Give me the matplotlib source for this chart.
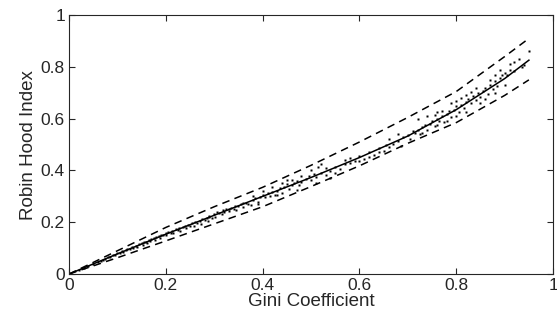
import matplotlib
matplotlib.use("Agg")
import matplotlib.pyplot as plt

plt.rcParams["font.family"] = ["Liberation Sans", "DejaVu Sans"]

# fitted curve and bounds
GRID = [0, 0.1, 0.2, 0.3, 0.4, 0.5, 0.6, 0.7, 0.8, 0.9, 0.95]
FIT = [0, 0.078, 0.154, 0.227, 0.300, 0.373, 0.450, 0.533, 0.635, 0.755, 0.826]
UPPER = [0, 0.090, 0.180, 0.260, 0.335, 0.420, 0.510, 0.605, 0.705, 0.840, 0.910]
LOWER = [0, 0.063, 0.128, 0.194, 0.260, 0.338, 0.418, 0.505, 0.585, 0.690, 0.750]

PTS = [
    (0.02, 0.016), (0.03, 0.024), (0.04, 0.031), (0.05, 0.040), (0.06, 0.047),
    (0.065, 0.052), (0.07, 0.056), (0.075, 0.058), (0.08, 0.064), (0.085, 0.066),
    (0.09, 0.072), (0.095, 0.074), (0.10, 0.080), (0.105, 0.082), (0.11, 0.088),
    (0.112, 0.085), (0.118, 0.092), (0.12, 0.096), (0.125, 0.097), (0.13, 0.103),
    (0.133, 0.100), (0.138, 0.108), (0.14, 0.106), (0.145, 0.115), (0.15, 0.118),
    (0.152, 0.112), (0.155, 0.122), (0.158, 0.124), (0.16, 0.119), (0.165, 0.130),
    (0.168, 0.126), (0.17, 0.134), (0.175, 0.138), (0.178, 0.132), (0.18, 0.142),
    (0.185, 0.146), (0.188, 0.140), (0.19, 0.150), (0.195, 0.149), (0.2, 0.158),
    (0.2, 0.152), (0.205, 0.162), (0.21, 0.160), (0.212, 0.168), (0.215, 0.158),
    (0.22, 0.172), (0.225, 0.170), (0.228, 0.178), (0.23, 0.166), (0.235, 0.180),
    (0.24, 0.185), (0.242, 0.176), (0.245, 0.190), (0.25, 0.186), (0.255, 0.196),
    (0.258, 0.184), (0.26, 0.200), (0.265, 0.196), (0.27, 0.206), (0.272, 0.194),
    (0.275, 0.212), (0.28, 0.210), (0.285, 0.218), (0.288, 0.206), (0.29, 0.222),
    (0.295, 0.216), (0.30, 0.232), (0.302, 0.222), (0.305, 0.238), (0.31, 0.236),
    (0.315, 0.230), (0.318, 0.246), (0.32, 0.240), (0.325, 0.250), (0.33, 0.244),
    (0.335, 0.256), (0.34, 0.250), (0.342, 0.262), (0.345, 0.246), (0.35, 0.262),
    (0.355, 0.270), (0.36, 0.258), (0.365, 0.276), (0.37, 0.272), (0.375, 0.266),
    (0.38, 0.284), (0.385, 0.292), (0.39, 0.280), (0.395, 0.296),
    (0.40, 0.304), (0.405, 0.296), (0.41, 0.312), (0.415, 0.300), (0.42, 0.318),
    (0.425, 0.306), (0.43, 0.322), (0.435, 0.332), (0.44, 0.314), (0.445, 0.338),
    (0.45, 0.346), (0.455, 0.330), (0.46, 0.342), (0.465, 0.352), (0.47, 0.360),
    (0.475, 0.342), (0.48, 0.356), (0.49, 0.366), (0.495, 0.380), (0.50, 0.362),
    (0.505, 0.386), (0.51, 0.374), (0.52, 0.392), (0.53, 0.384), (0.54, 0.398),
    (0.55, 0.412), (0.56, 0.404), (0.57, 0.424), (0.58, 0.428), (0.59, 0.438),
    (0.60, 0.456), (0.61, 0.444), (0.62, 0.470), (0.63, 0.458), (0.64, 0.486),
    (0.65, 0.476), (0.655, 0.500), (0.66, 0.490), (0.67, 0.504), (0.68, 0.514),
    (0.685, 0.494), (0.69, 0.530), (0.70, 0.536), (0.705, 0.522), (0.71, 0.552),
    (0.715, 0.544), (0.72, 0.558), (0.725, 0.540), (0.73, 0.566), (0.735, 0.576),
    (0.74, 0.556), (0.745, 0.580), (0.75, 0.590), (0.755, 0.572), (0.76, 0.600),
    (0.765, 0.592), (0.77, 0.610), (0.775, 0.586), (0.78, 0.618), (0.785, 0.628),
    (0.79, 0.608), (0.795, 0.634), (0.80, 0.648), (0.805, 0.624), (0.81, 0.654),
    (0.815, 0.640), (0.82, 0.664), (0.825, 0.676), (0.83, 0.660), (0.835, 0.686),
    (0.84, 0.674), (0.845, 0.698), (0.85, 0.684), (0.855, 0.708), (0.86, 0.718),
    (0.865, 0.694), (0.87, 0.730), (0.875, 0.716), (0.88, 0.744), (0.885, 0.728),
    (0.89, 0.756), (0.895, 0.768), (0.90, 0.776), (0.905, 0.770), (0.91, 0.790),
    (0.92, 0.786), (0.93, 0.830), (0.94, 0.808), (0.95, 0.862),
    (0.515, 0.415), (0.52, 0.425), (0.54, 0.370), (0.47, 0.325), (0.755, 0.615),
    (0.77, 0.630), (0.81, 0.680), (0.83, 0.705), (0.78, 0.592), (0.86, 0.676),
    (0.90, 0.730), (0.44, 0.350), (0.45, 0.362), (0.62, 0.452), (0.58, 0.448),
    (0.33, 0.252), (0.29, 0.226), (0.36, 0.274),
    (0.72, 0.600), (0.74, 0.610), (0.76, 0.625), (0.79, 0.660), (0.80, 0.670),
    (0.82, 0.690), (0.84, 0.720), (0.87, 0.750), (0.88, 0.770), (0.89, 0.790),
    (0.91, 0.810), (0.92, 0.820), (0.935, 0.800), (0.80, 0.610), (0.82, 0.625),
    (0.85, 0.660), (0.88, 0.700), (0.73, 0.545), (0.76, 0.575), (0.66, 0.520),
    (0.68, 0.540), (0.64, 0.470), (0.57, 0.440), (0.53, 0.410), (0.50, 0.400),
    (0.48, 0.380), (0.46, 0.365), (0.42, 0.335), (0.40, 0.320), (0.38, 0.300),
    (0.51, 0.350), (0.55, 0.390), (0.60, 0.435), (0.43, 0.305), (0.39, 0.270),
]
px = [p[0] for p in PTS]
py = [p[1] for p in PTS]

fig, ax = plt.subplots(figsize=(5.57, 3.22), dpi=100)
fig.subplots_adjust(left=0.124, right=0.993, bottom=0.149, top=0.953)

ax.plot(px, py, linestyle="none", marker="s", markersize=2.0, color="k", mec="none")
ax.plot(GRID, FIT, color="k", linewidth=1.1)
for ys in (UPPER, LOWER):
    ax.plot(GRID, ys, color="k", linewidth=1.1, linestyle=(0, (5, 3.5)))

ax.set_xlim(0, 1)
ax.set_ylim(0, 1)
ax.set_xticks([0, 0.2, 0.4, 0.6, 0.8, 1])
ax.set_yticks([0, 0.2, 0.4, 0.6, 0.8, 1])
ax.set_xticklabels(["0", "0.2", "0.4", "0.6", "0.8", "1"])
ax.set_yticklabels(["0", "0.2", "0.4", "0.6", "0.8", "1"])
ax.tick_params(direction="in", length=4, width=0.8, top=True, right=True,
               labelsize=12.5, colors="#262626", pad=3)
for s in ax.spines.values():
    s.set_linewidth(0.8)
    s.set_color("#262626")
ax.set_xlabel("Gini Coefficient", fontsize=13.5, color="#262626", labelpad=0)
ax.set_ylabel("Robin Hood Index", fontsize=13.5, color="#262626", labelpad=3)

fig.savefig("out.png", dpi=100)
